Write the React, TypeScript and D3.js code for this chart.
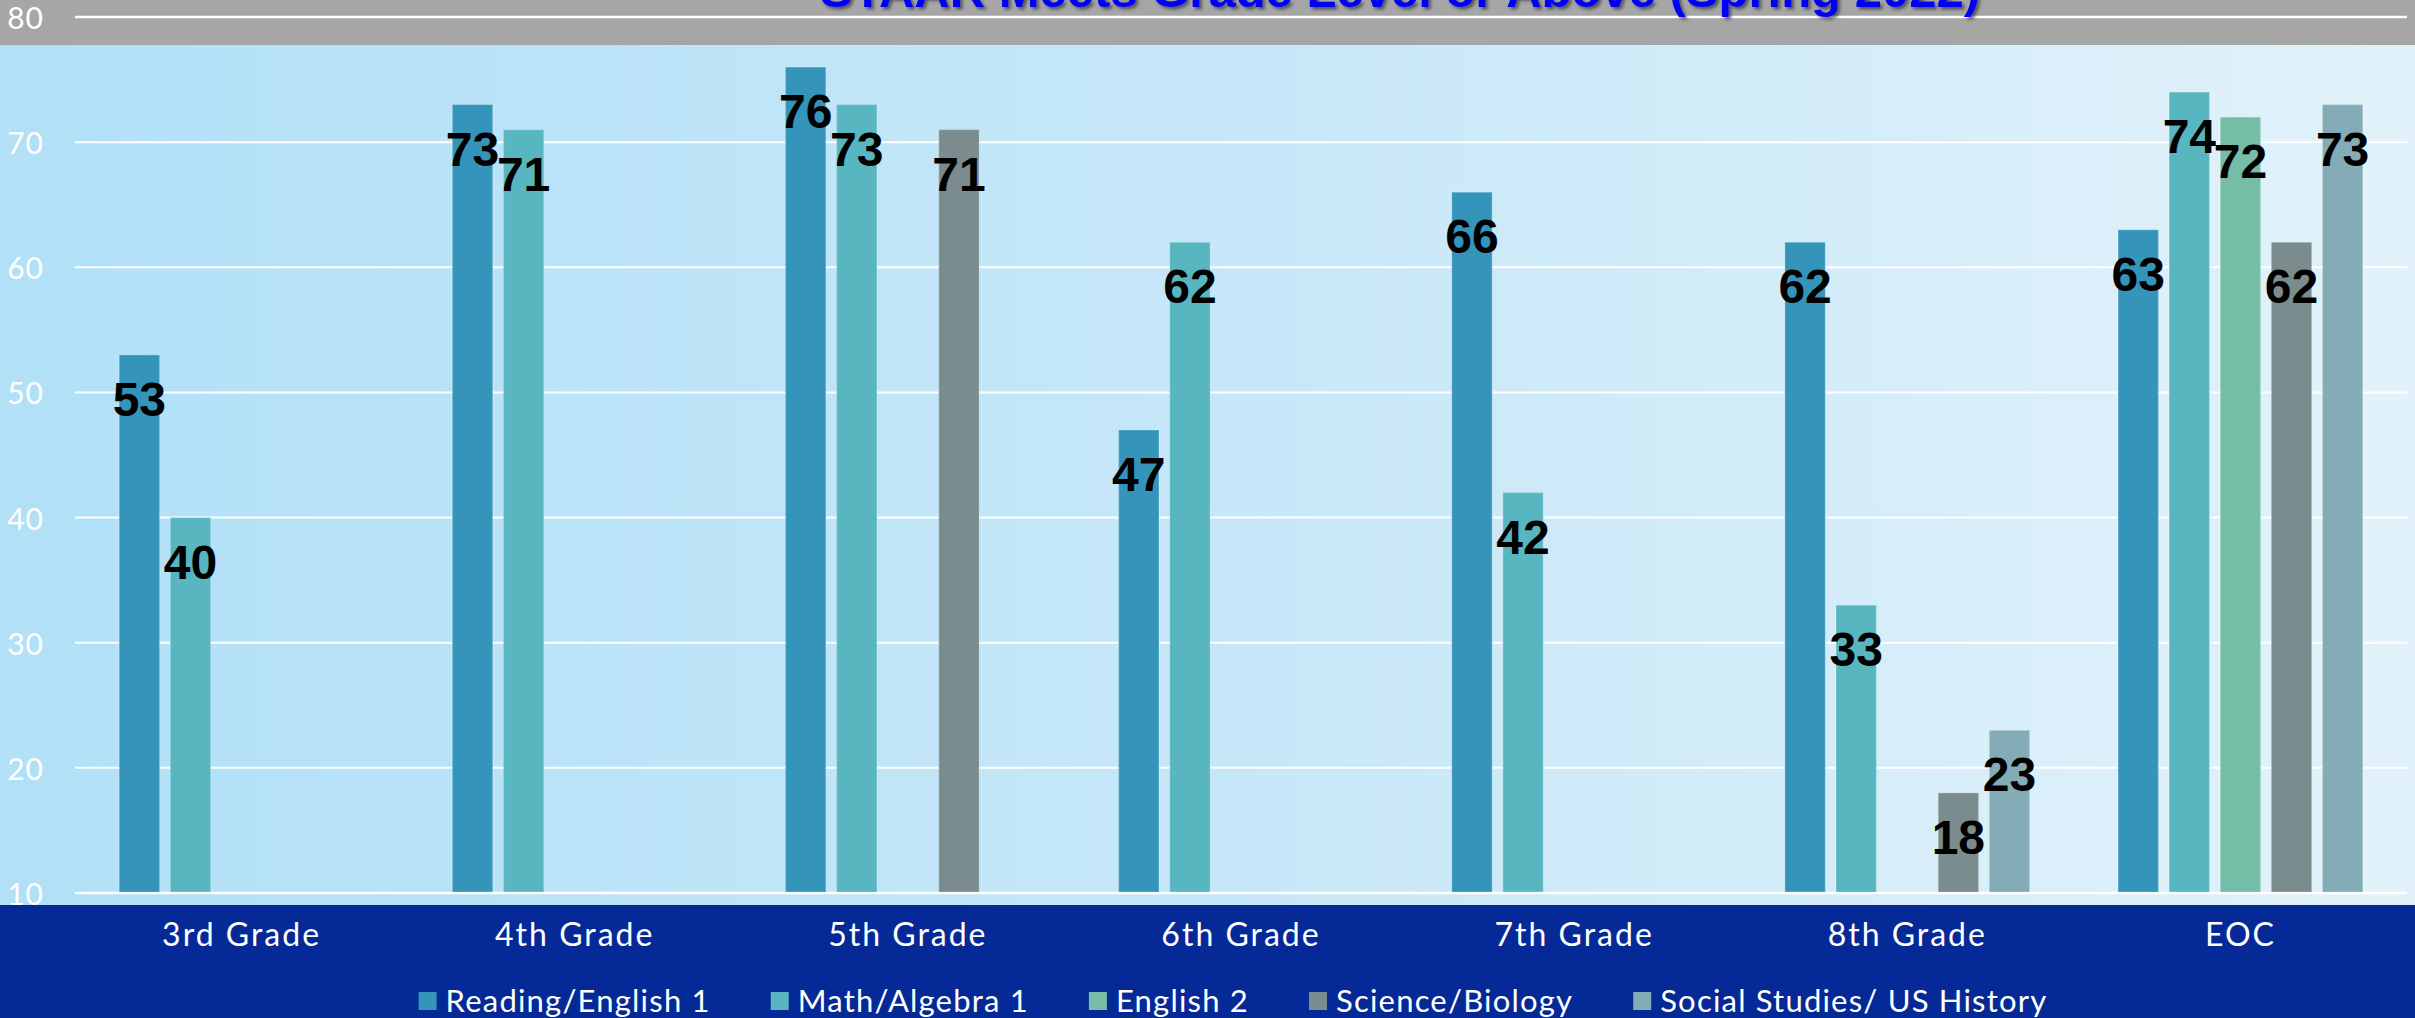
import React, { useRef, useEffect } from "react";
import * as d3 from "d3";

const WIDTH = 2415;
const HEIGHT = 1018;

const CATEGORIES = ["3rd Grade", "4th Grade", "5th Grade", "6th Grade", "7th Grade", "8th Grade", "EOC"];
const SERIES = ["Reading/English 1", "Math/Algebra 1", "English 2", "Science/Biology", "Social Studies/ US History"];
const READING = [53, 73, 76, 47, 66, 62, 63];
const MATH = [40, 71, 73, 62, 42, 33, 74];
const ENGLISH_2 = [null, null, null, null, null, null, 72];
const SCIENCE = [null, null, 71, null, null, 18, 62];
const SOCIAL = [null, null, null, null, null, 23, 73];
const Y_TICKS = [10, 20, 30, 40, 50, 60, 70, 80];
const TITLE = "STAAR Meets Grade Level or Above (Spring 2022)";

const COLORS = ["#3494BA", "#58B6C0", "#75BDA7", "#7A8C8E", "#84ACB6"];
const PLOT = { left: 75, right: 2407, top: 17, bottom: 893 };
const GRAY_BOTTOM = 45;
const BLUE_TOP = 905;
const LIGHT_FONT = "Lato, 'Open Sans', sans-serif";
const BOLD_FONT = "'Liberation Sans', Arial, sans-serif";

export default function App() {
  const ref = useRef<SVGSVGElement>(null);

  useEffect(() => {
    const svg = d3.select(ref.current);
    svg.selectAll("*").remove();

    const seriesValues = [READING, MATH, ENGLISH_2, SCIENCE, SOCIAL];

    const x = d3.scaleBand<string>().domain(CATEGORIES).range([PLOT.left, PLOT.right]).padding(0);
    const xSub = d3
      .scaleBand<string>()
      .domain(SERIES)
      .range([0, x.bandwidth()])
      .paddingInner(0.21)
      .paddingOuter(0.865);
    const y = d3.scaleLinear().domain([10, 80]).range([PLOT.bottom, PLOT.top]);

    const defs = svg.append("defs");
    const grad = defs
      .append("linearGradient")
      .attr("id", "bgGrad")
      .attr("x1", "0%")
      .attr("x2", "100%")
      .attr("y1", "0%")
      .attr("y2", "0%");
    grad.append("stop").attr("offset", "0%").attr("stop-color", "#B1E0F7");
    grad.append("stop").attr("offset", "50%").attr("stop-color", "#C6E7F8");
    grad.append("stop").attr("offset", "100%").attr("stop-color", "#E2F2FA");

    const shadow = defs.append("filter").attr("id", "titleShadow").attr("x", "-5%").attr("y", "-50%").attr("width", "110%").attr("height", "200%");
    shadow
      .append("feDropShadow")
      .attr("dx", 2.5)
      .attr("dy", 2.5)
      .attr("stdDeviation", 1.5)
      .attr("flood-color", "#303030")
      .attr("flood-opacity", 0.7);

    // background bands
    svg.append("rect").attr("x", 0).attr("y", 0).attr("width", WIDTH).attr("height", GRAY_BOTTOM).attr("fill", "#A6A6A6");
    svg
      .append("rect")
      .attr("x", 0)
      .attr("y", GRAY_BOTTOM)
      .attr("width", WIDTH)
      .attr("height", BLUE_TOP - GRAY_BOTTOM)
      .attr("fill", "url(#bgGrad)");
    svg
      .append("rect")
      .attr("x", 0)
      .attr("y", BLUE_TOP)
      .attr("width", WIDTH)
      .attr("height", HEIGHT - BLUE_TOP)
      .attr("fill", "#052A98");

    // gridlines
    svg
      .append("g")
      .selectAll("line")
      .data(Y_TICKS)
      .enter()
      .append("line")
      .attr("x1", PLOT.left)
      .attr("x2", PLOT.right)
      .attr("y1", (d) => y(d))
      .attr("y2", (d) => y(d))
      .attr("stroke", "#ffffff")
      .attr("stroke-width", (d) => (d === 80 || d === 10 ? 2.5 : 2));

    // y tick labels
    svg
      .append("g")
      .selectAll("text")
      .data(Y_TICKS)
      .enter()
      .append("text")
      .attr("x", 44)
      .attr("y", (d) => y(d))
      .attr("text-anchor", "end")
      .attr("dominant-baseline", "central")
      .attr("fill", "#ffffff")
      .style("font-family", LIGHT_FONT)
      .style("font-weight", 400)
      .style("font-size", "30px")
      .style("letter-spacing", "1px")
      .text((d) => d);

    // bars
    const bars: { cat: string; key: string; value: number; color: string }[] = [];
    CATEGORIES.forEach((cat, i) => {
      SERIES.forEach((key, s) => {
        const v = seriesValues[s][i];
        if (v != null) bars.push({ cat, key, value: v, color: COLORS[s] });
      });
    });

    const barG = svg.append("g");
    barG
      .selectAll("rect")
      .data(bars)
      .enter()
      .append("rect")
      .attr("x", (d) => x(d.cat)! + xSub(d.key)!)
      .attr("y", (d) => y(d.value))
      .attr("width", xSub.bandwidth())
      .attr("height", (d) => y(10) - y(d.value) - 1)
      .attr("fill", (d) => d.color)
      .attr("stroke", "#ffffff")
      .attr("stroke-opacity", 0.18)
      .attr("stroke-width", 1.5);

    barG
      .selectAll("text")
      .data(bars)
      .enter()
      .append("text")
      .attr("x", (d) => x(d.cat)! + xSub(d.key)! + xSub.bandwidth() / 2)
      .attr("y", (d) => y(d.value) + 61)
      .attr("text-anchor", "middle")
      .attr("fill", "#000000")
      .style("font-family", BOLD_FONT)
      .style("font-weight", 700)
      .style("font-size", "48px")
      .text((d) => d.value);

    // category labels
    svg
      .append("g")
      .selectAll("text")
      .data(CATEGORIES)
      .enter()
      .append("text")
      .attr("x", (d) => x(d)! + x.bandwidth() / 2)
      .attr("y", 946)
      .attr("text-anchor", "middle")
      .attr("fill", "#ffffff")
      .style("font-family", LIGHT_FONT)
      .style("font-weight", 400)
      .style("font-size", "32px")
      .style("letter-spacing", "2px")
      .text((d) => d);

    // legend
    const legend = svg.append("g");
    const items = legend
      .selectAll("g")
      .data(SERIES)
      .enter()
      .append("g");
    items
      .append("rect")
      .attr("width", 18)
      .attr("height", 18)
      .attr("y", 992)
      .attr("fill", (d, i) => COLORS[i]);
    items
      .append("text")
      .attr("x", 27)
      .attr("y", 1012)
      .attr("fill", "#ffffff")
      .style("font-family", LIGHT_FONT)
      .style("font-weight", 400)
      .style("font-size", "31px")
      .style("letter-spacing", "1.2px")
      .text((d) => d);

    let offset = 0;
    const offsets: number[] = [];
    items.each(function () {
      offsets.push(offset);
      const w = (this as SVGGElement).querySelector("text")!.getComputedTextLength();
      offset += 27 + w + 60;
    });
    const total = offset - 60;
    const start = 1233 - total / 2;
    items.attr("transform", (d, i) => `translate(${start + offsets[i]},0)`);

    // title (mostly above the visible area, as in the original slide)
    svg
      .append("text")
      .attr("x", 1400)
      .attr("y", 7)
      .attr("text-anchor", "middle")
      .attr("fill", "#0000F5")
      .attr("filter", "url(#titleShadow)")
      .style("font-family", BOLD_FONT)
      .style("font-weight", 700)
      .style("font-size", "49px")
      .text(TITLE);
  }, []);

  return (
    <svg
      ref={ref}
      width={WIDTH}
      height={HEIGHT}
      style={{ position: "absolute", left: 0, top: 0, display: "block" }}
    />
  );
}
